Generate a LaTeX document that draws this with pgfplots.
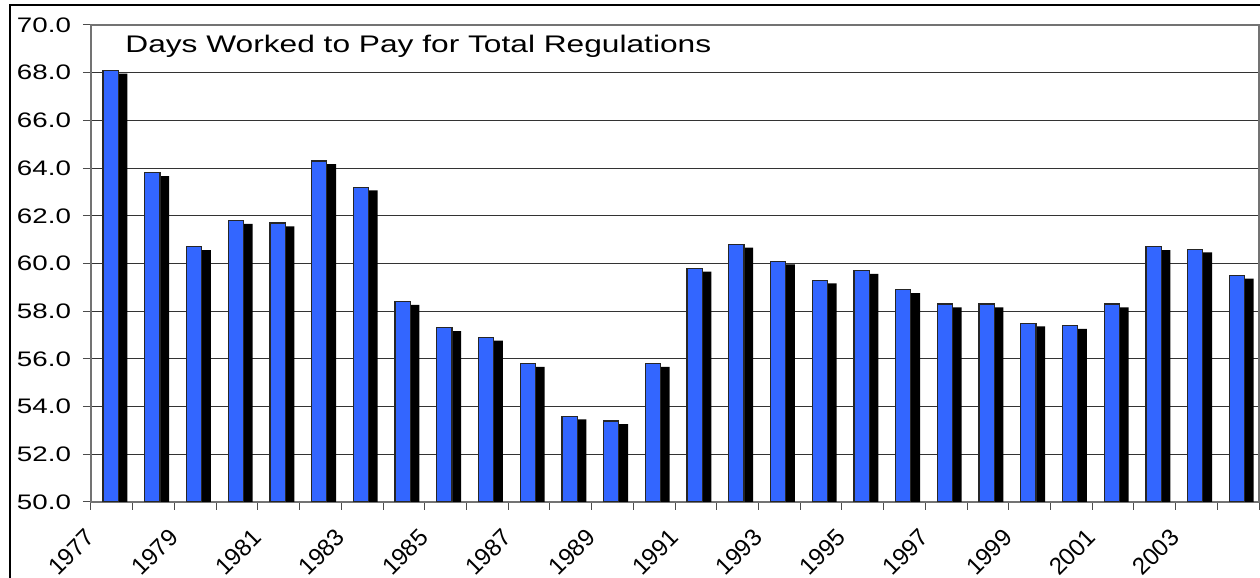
\documentclass[border=0pt]{standalone}
\usepackage{pgfplots}
\pgfplotsset{compat=1.18}
\usepackage{pgfplotstable}
\usepackage{fontspec}
\setmainfont{Liberation Sans}
\newfontfamily\wfont[FakeStretch=1.32]{Liberation Sans}
\definecolor{barblue}{RGB}{51,102,255}

\pgfplotstableread{
x v
0.5 68.1
1.5 63.8
2.5 60.7
3.5 61.8
4.5 61.7
5.5 64.3
6.5 63.2
7.5 58.4
8.5 57.3
9.5 56.9
10.5 55.8
11.5 53.6
12.5 53.4
13.5 55.8
14.5 59.8
15.5 60.8
16.5 60.1
17.5 59.3
18.5 59.7
19.5 58.9
20.5 58.3
21.5 58.3
22.5 57.5
23.5 57.4
24.5 58.3
25.5 60.7
26.5 60.6
27.5 59.5
}\datatable

\begin{document}
\begin{tikzpicture}[x=1pt,y=1pt]
\useasboundingbox (0,0) rectangle (630,289);
\fill[white] (0,0) rectangle (630,289);
\begin{axis}[
  at={(45.5pt,38pt)}, anchor=south west,
  scale only axis, width=584pt, height=238.5pt,
  xmin=0, xmax=28, ymin=50, ymax=70,
  ytick={50,52,...,70},
  xtick={0,2,...,26},
  minor xtick={1,3,...,27,28},
  xticklabels={1977,1979,1981,1983,1985,1987,1989,1991,1993,1995,1997,1999,2001,2003},
  tick align=outside, xtick pos=bottom, ytick pos=left,
  major tick length=4pt, minor tick length=4pt,
  tick style={black!70, line width=0.5pt},
  ymajorgrids, grid style={black!80, line width=0.5pt},
  minor x grid style={draw=none},
  axis line style={black!55, line width=0.6pt},
  /pgf/number format/assume math mode=true,
  yticklabel={\pgfmathprintnumber[fixed,fixed zerofill,precision=1]{\tick}},
  yticklabel style={font=\wfont\fontsize{10.5}{12}\selectfont, xshift=-2.5pt},
  xticklabel style={font=\fontsize{12}{14}\selectfont, rotate=45, anchor=east, xshift=-5pt, yshift=-8pt},
  clip=true,
]
\addplot[ybar, bar width=8pt, bar shift=3.8pt, fill=black, draw=none, yshift=-1.65pt] table[x=x,y=v]{\datatable};
\addplot[ybar, bar width=7.6pt, bar shift=-0.6pt, fill=barblue, draw=black!85, line width=0.6pt] table[x=x,y=v]{\datatable};
\end{axis}
\draw[line width=1pt] (5,-10) rectangle (660,286.5);
\node[anchor=base west, inner sep=0, font=\wfont\fontsize{12}{14}\selectfont] at (62.5,262.5) {Days Worked to Pay for Total Regulations};
\end{tikzpicture}
\end{document}
